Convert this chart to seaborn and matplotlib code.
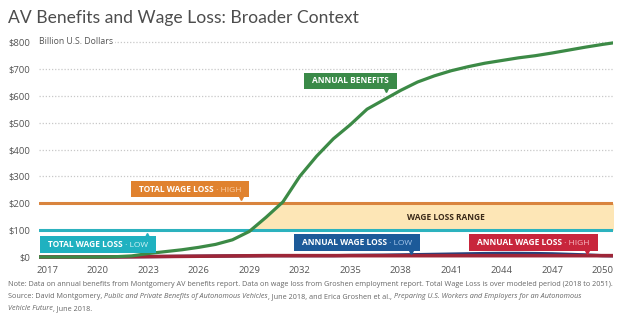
import numpy as np
import pandas as pd
import matplotlib
matplotlib.use("Agg")
import matplotlib.pyplot as plt
import seaborn as sns
from matplotlib.offsetbox import TextArea, HPacker, AnnotationBbox, DrawingArea

# ---------------- data ----------------
years = list(range(2016, 2052))
annual_benefits = [0, 0, 0, 0, 0, 1, 4, 13, 20, 27, 36, 47, 64, 95, 148, 205, 300, 375,
                   440, 492, 550, 585, 620, 651, 674, 693, 708, 721, 731, 741, 749, 759,
                   770, 781, 791, 800]
annual_loss_low = [0, 0, 0, 0, 0, 0.5, 1, 1.5, 2, 2.5, 3, 3.5, 4, 4.5, 5, 5, 5, 5, 5, 6,
                   6.5, 7, 8, 9, 10, 11, 12, 13, 13.5, 13.5, 13, 12, 10, 8, 5, 4]
annual_loss_high = [0, 0, 0, 0, 0, 0.5, 1, 1.5, 2, 2.5, 3, 3.5, 4, 4.5, 5, 5, 5, 5, 5, 5,
                    5, 5, 5, 5, 5, 5, 5, 5, 5, 5, 5, 5, 5, 5, 5, 5]
total_loss_low = 100
total_loss_high = 200
tick_years = list(range(2017, 2051, 3))
y_ticks = list(range(0, 801, 100))
y_labels = [f"${v}" for v in y_ticks]

df = pd.DataFrame({"year": years, "benefits": annual_benefits,
                   "low": annual_loss_low, "high": annual_loss_high})

# ---------------- style ----------------
sns.set_theme(style="white")
plt.rcParams["font.family"] = ["Open Sans", "DejaVu Sans"]

GREEN = "#3c8a46"
ORANGE = "#d9843e"
TEAL = "#2cb2be"
FILL = "#fde6b6"
NAVY = "#1c5a99"
NAVY_LINE = "#24407c"
RED = "#c8263c"
RED_LINE = "#9e2638"
GRID = "#c8c8c8"
TXT = "#555555"

fig = plt.figure(figsize=(6.21, 3.29), dpi=100)
ax = fig.add_axes([39 / 621, 1 - 259.7 / 329, (613 - 39) / 621, (259.7 - 39.3) / 329])

ax.set_xlim(2016.5, 2050.62)
ax.set_ylim(-10, 810)

# gridlines
for v in y_ticks[1:]:
    ax.axhline(v, color=GRID, lw=0.9, ls=(0, (1, 1.5)), zorder=0)

# wage loss range fill (between totals, right of benefits curve)
b = np.array(annual_benefits, dtype=float)
upper = np.clip(b, total_loss_low, total_loss_high)
ax.fill_between(df["year"], total_loss_low, upper, where=b >= total_loss_low - 10,
                color=FILL, lw=0, zorder=1, interpolate=True)

ax.axhline(total_loss_high, color=ORANGE, lw=2.2, zorder=2)
ax.axhline(total_loss_low, color=TEAL, lw=2.2, zorder=2)

sns.lineplot(data=df, x="year", y="low", ax=ax, color=NAVY_LINE, lw=2.3, zorder=3)
sns.lineplot(data=df, x="year", y="high", ax=ax, color=RED_LINE, lw=2.6, zorder=4)
sns.lineplot(data=df, x="year", y="benefits", ax=ax, color=GREEN, lw=2.3, zorder=5)

for s in ax.spines.values():
    s.set_visible(False)
ax.set_xlabel("")
ax.set_ylabel("")
ax.set_xticks(tick_years)
ax.set_xticklabels([str(t) for t in tick_years])
ax.set_yticks(y_ticks)
ax.set_yticklabels(y_labels)
ax.tick_params(axis="both", length=0, labelsize=6.8, labelcolor=TXT)
ax.tick_params(axis="y", pad=6)
ax.tick_params(axis="x", pad=4.5)

ax.text(2016.5, 800, "Billion U.S. Dollars", fontsize=6.3, color=TXT, ha="left",
        va="center", zorder=6,
        bbox=dict(facecolor="white", edgecolor="none", pad=1.5))


def tag(x, y, main, suffix, bg, tint, px, py, marker):
    props = dict(color="white", fontsize=6, fontweight="bold", family="Open Sans")
    kids = [DrawingArea(3, 1), TextArea(main, textprops=props)]
    if suffix:
        p2 = dict(props)
        p2["color"] = tint
        p2["fontweight"] = "normal"
        kids.append(TextArea(suffix, textprops=p2))
    kids.append(DrawingArea(3, 1))
    pack = HPacker(children=kids, align="baseline", pad=0, sep=0)
    ab = AnnotationBbox(pack, (x, y), xycoords="data", frameon=True, pad=0.25,
                        bboxprops=dict(facecolor=bg, edgecolor="none",
                                       boxstyle="square,pad=0.25"), zorder=7)
    ax.add_artist(ab)
    ax.plot([px], [py], marker=marker, color=bg, markersize=4.5, ls="none", zorder=7)


tag(2025.5, 253, "TOTAL WAGE LOSS", " · HIGH", "#e0822f", "#fbd0a8", 2028.5, 222, "v")
tag(2020.0, 46, "TOTAL WAGE LOSS", " · LOW", "#1fb1c0", "#d3f3f6", 2022.9, 78, "^")
tag(2035.0, 655, "ANNUAL BENEFITS", "", "#3a8a48", "", 2037.1, 624, "v")
tag(2035.4, 54, "ANNUAL WAGE LOSS", " · LOW", NAVY, "#a8c8ec", 2038.6, 24, "v")
tag(2045.9, 54, "ANNUAL WAGE LOSS", " · HIGH", RED, "#f7bcc4", 2049.1, 24, "v")

ax.text(2040.7, 146, "WAGE LOSS RANGE", fontsize=6, fontweight="bold", color="#3a2a1a",
        ha="center", va="center", zorder=6)

# title
fig.text(8 / 621, 1 - 23 / 329, "AV Benefits and Wage Loss: Broader Context",
         fontsize=12.6, fontweight="normal", color="#4d4d4d", ha="left", va="baseline",
         family=["Lato", "Open Sans", "DejaVu Sans"])

# notes
NOTE = dict(fontsize=5.2, color="#666666", family="Open Sans")


def note_line(parts, ypix):
    kids = []
    for txt, ital in parts:
        p = dict(NOTE)
        if ital:
            p["style"] = "italic"
        kids.append(TextArea(txt, textprops=p))
    pack = HPacker(children=kids, align="baseline", pad=0, sep=0)
    ab = AnnotationBbox(pack, (8 / 621, 1 - ypix / 329), xycoords="figure fraction",
                        box_alignment=(0, 0.5), frameon=False, pad=0)
    fig.add_artist(ab)


note_line([("Note: Data on annual benefits from Montgomery AV benefits report. Data on wage loss "
            "from Groshen employment report. Total Wage Loss is over modeled period (2018 to 2051).",
            False)], 284)
note_line([("Source: David Montgomery, ", False),
           ("Public and Private Benefits of Autonomous Vehicles", True),
           (", June 2018, and Erica Groshen et al., ", False),
           ("Preparing U.S. Workers and Employers for an Autonomous", True)], 296.5)
note_line([("Vehicle Future", True), (", June 2018.", False)], 309)

fig.savefig("out.png", dpi=100, facecolor="white")
